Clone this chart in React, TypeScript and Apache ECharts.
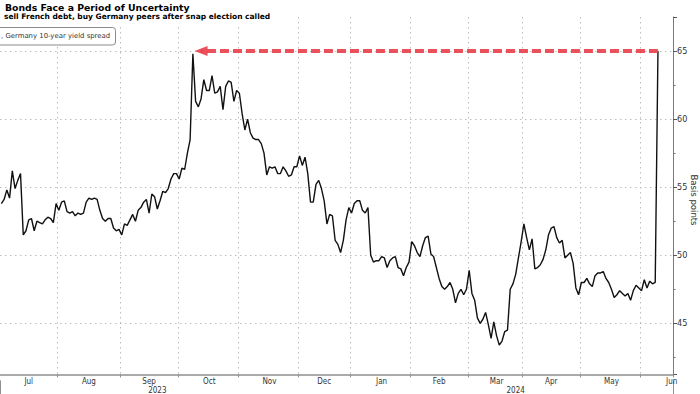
import React, { useEffect, useRef } from "react";
import * as echarts from "echarts";

// ---- Data (France–Germany 10-year yield spread, basis points, trading days) ----
const months = ["Jul", "Aug", "Sep", "Oct", "Nov", "Dec", "Jan", "Feb", "Mar", "Apr", "May", "Jun"];
const monthYear = ["2023", "2023", "2023", "2023", "2023", "2023", "2024", "2024", "2024", "2024", "2024", "2024"];
const tradingDays = [21, 23, 21, 22, 22, 19, 22, 21, 20, 21, 22, 12];

const jul23 = [53.8, 54.1, 54.8, 54.2, 56.2, 54.9, 55.5, 56.0, 51.5, 51.8, 52.6, 52.7, 51.8, 52.5, 52.4, 52.3, 52.6, 52.8, 52.7, 52.4, 53.8];
const aug23 = [53.3, 53.9, 54.0, 53.2, 53.1, 53.2, 52.9, 53.1, 53.0, 53.1, 53.9, 54.2, 54.1, 54.2, 54.1, 53.3, 52.7, 52.5, 52.7, 52.7, 52.0, 51.8, 51.9];
const sep23 = [51.5, 52.3, 52.2, 52.6, 53.0, 52.5, 53.3, 53.5, 53.9, 54.1, 53.1, 54.5, 54.3, 53.4, 54.0, 54.7, 54.6, 54.9, 55.6, 56.0, 56.0];
const oct23 = [55.6, 56.4, 56.3, 57.5, 58.5, 64.8, 61.3, 60.9, 61.5, 62.9, 62.1, 62.1, 63.2, 61.9, 62.0, 62.4, 60.7, 62.4, 62.8, 62.7, 61.3, 62.1];
const nov23 = [61.9, 60.4, 59.2, 60.0, 59.0, 58.6, 58.5, 58.5, 58.2, 57.5, 55.9, 56.5, 56.4, 56.5, 56.0, 56.0, 56.5, 56.2, 55.8, 55.9, 56.5, 56.5];
const dec23 = [57.3, 56.6, 57.2, 56.0, 53.9, 53.9, 55.2, 55.5, 54.9, 54.0, 52.3, 53.0, 52.9, 51.1, 50.8, 50.2, 51.1, 52.6, 53.5];
const jan24 = [53.1, 53.8, 54.0, 54.0, 53.3, 53.1, 53.5, 50.0, 49.5, 49.6, 49.6, 49.9, 49.8, 49.1, 49.6, 49.8, 49.9, 49.1, 49.0, 48.5, 49.1, 49.5];
const feb24 = [51.0, 50.7, 50.2, 49.9, 50.7, 51.3, 51.4, 50.1, 49.9, 49.1, 48.3, 47.7, 47.5, 47.7, 48.0, 47.5, 46.5, 47.2, 47.5, 47.1, 47.5];
const mar24 = [48.9, 47.2, 46.7, 45.4, 45.0, 45.3, 45.8, 44.9, 43.9, 45.1, 44.1, 43.4, 43.7, 44.4, 44.5, 47.5, 47.9, 48.6, 49.8, 51.0];
const apr24 = [52.3, 51.3, 50.4, 51.2, 49.0, 49.1, 49.3, 49.7, 50.4, 51.5, 52.0, 52.1, 51.3, 50.9, 51.1, 49.8, 50.0, 50.2, 49.4, 47.6, 47.1];
const may24 = [48.0, 48.0, 48.3, 47.9, 47.7, 48.5, 48.7, 48.7, 48.8, 48.3, 48.0, 47.5, 46.9, 47.1, 47.4, 47.2, 47.0, 47.2, 46.7, 47.4, 47.8, 47.6];
const jun24 = [47.4, 48.2, 47.6, 48.1, 47.9, 48.0, 65.0];

const arrowLevel = 65;
const titleText = "Bonds Face a Period of Uncertainty";
const subtitleText = "sell French debt, buy Germany peers after snap election called";
const legendText = ", Germany 10-year yield spread";
const yAxisTitle = "Basis points";
const yearLabelAt = [57, 188];

// ---- Build category axis / series from the arrays ----
const monthly = [jul23, aug23, sep23, oct23, nov23, dec23, jan24, feb24, mar24, apr24, may24, jun24];
const categories: string[] = [];
const values: (number | null)[] = [];
const monthStart = new Set<number>();
const monthMid = new Map<number, string>();
const yearStart = new Set<number>();
let idx = 0;
months.forEach((m, k) => {
  const n = tradingDays[k];
  monthStart.add(idx);
  if (k > 0 && monthYear[k] !== monthYear[k - 1]) yearStart.add(idx);
  const mid = k === months.length - 1 ? idx + n - 1 : idx + Math.floor(n / 2);
  monthMid.set(mid, m);
  for (let d = 0; d < n; d++) {
    categories.push(`${m} ${monthYear[k]} #${d + 1}`);
    values.push(d < monthly[k].length ? monthly[k][d] : null);
  }
  idx += n;
});
const yearNames = Array.from(new Set(monthYear));
const yearLabelMap = new Map<number, string>();
yearLabelAt.forEach((i, k) => yearLabelMap.set(i, yearNames[k]));

let lastIdx = 0;
values.forEach((v, i) => {
  if (v != null) lastIdx = i;
});
// previous high (before the final post-election jump)
let peakIdx = 0;
for (let i = 0; i < lastIdx; i++) {
  const v = values[i];
  if (v != null && v > (values[peakIdx] as number)) peakIdx = i;
}

const axisFont = '"Liberation Sans Narrow", "DejaVu Sans Condensed", "Liberation Sans", sans-serif';
const gridLine = { color: "#bdbdbd", type: [1.5, 3.5] as number[], width: 1 };

export default function App() {
  const ref = useRef<HTMLDivElement>(null);
  useEffect(() => {
    document.body.style.margin = "0";
    const chart = echarts.init(ref.current!, null, { renderer: "svg" });
    const option: any = {
      animation: false,
      backgroundColor: "#ffffff",
      grid: { left: 0, right: 27, top: 17, bottom: 19.6, containLabel: false, outerBoundsMode: "none" },
      xAxis: [
        {
          type: "category",
          data: categories,
          boundaryGap: true,
          position: "bottom",
          axisLine: { show: true, lineStyle: { color: "#8f8f8f", width: 1.6 } },
          axisTick: {
            show: true,
            length: 3,
            interval: (i: number) => monthStart.has(i) && i > 0,
            lineStyle: { color: "#8f8f8f" },
          },
          axisLabel: {
            interval: (i: number) => monthMid.has(i),
            formatter: (_v: string, i: number) => monthMid.get(i) ?? "",
            margin: 3,
            fontSize: 8,
            lineHeight: 8,
            color: "#333",
            fontFamily: axisFont,
          },
          splitLine: {
            show: true,
            interval: (i: number) => monthStart.has(i) && i > 0,
            lineStyle: gridLine,
          },
        },
        {
          type: "category",
          data: categories,
          boundaryGap: true,
          position: "bottom",
          offset: 6,
          axisLine: { show: false },
          axisTick: {
            show: true,
            length: 14,
            interval: (i: number) => yearStart.has(i),
            lineStyle: { color: "#8f8f8f" },
          },
          axisLabel: {
            interval: (i: number) => yearLabelMap.has(i),
            formatter: (_v: string, i: number) => yearLabelMap.get(i) ?? "",
            margin: 6,
            fontSize: 8,
            lineHeight: 8,
            color: "#333",
            fontFamily: axisFont,
          },
          splitLine: { show: false },
        },
      ],
      yAxis: {
        type: "value",
        position: "right",
        min: 41.25,
        max: 67.5,
        axisLine: { show: true, lineStyle: { color: "#7a7a7a", width: 1 } },
        axisTick: { show: true, length: 4, lineStyle: { color: "#555" } },
        minorTick: { show: true, splitNumber: 2, length: 2.5, lineStyle: { color: "#777" } },
        axisLabel: {
          formatter: (v: number) => (Math.abs(v % 5) < 1e-9 ? String(v) : ""),
          showMinLabel: false,
          showMaxLabel: false,
          margin: 4,
          fontSize: 9,
          color: "#333",
          fontFamily: axisFont,
        },
        splitLine: { show: true, showMinLine: false, showMaxLine: false, lineStyle: gridLine },
      },
      series: [
        {
          type: "line",
          data: values,
          xAxisIndex: 0,
          symbol: "none",
          lineStyle: { color: "#111", width: 1.4 },
          z: 3,
          markLine: {
            silent: true,
            symbol: ["none", "triangle"],
            symbolSize: [10, 13],
            label: { show: false },
            emphasis: { disabled: true },
            lineStyle: {
              color: "#e8424c",
              width: 4,
              type: [9, 4],
              opacity: 0.92,
            },
            data: [
              [
                { coord: [lastIdx, arrowLevel] },
                { coord: [peakIdx + 3, arrowLevel] },
              ],
            ],
          },
        },
      ],
      graphic: [
        { type: "rect", shape: { x: 0, y: 0, width: 285, height: 26 }, style: { fill: "#fff" }, z: 10, silent: true },
        {
          type: "text",
          x: 5,
          y: 7,
          z: 11,
          style: { text: titleText, font: 'bold 9.3px "DejaVu Sans"', fill: "#000", verticalAlign: "middle" },
        },
        {
          type: "text",
          x: 4,
          y: 16.3,
          z: 11,
          style: { text: subtitleText, font: 'bold 7.5px "DejaVu Sans"', fill: "#000", verticalAlign: "middle" },
        },
        {
          type: "rect",
          shape: { x: -4, y: 27.5, width: 119.5, height: 17.5, r: 3 },
          style: { fill: "#fff", stroke: "#8a8a8a", lineWidth: 1 },
          z: 10,
          silent: true,
        },
        {
          type: "text",
          x: 1,
          y: 36,
          z: 11,
          style: { text: legendText, font: '6.9px "DejaVu Sans"', fill: "#333", verticalAlign: "middle" },
        },
        {
          type: "text",
          x: 694,
          y: 200,
          rotation: -Math.PI / 2,
          z: 11,
          style: {
            text: yAxisTitle,
            font: '8.5px "DejaVu Sans"',
            fill: "#333",
            align: "center",
            verticalAlign: "middle",
          },
        },
      ],
    };
    chart.setOption(option);
    return () => chart.dispose();
  }, []);
  return <div ref={ref} style={{ position: "fixed", left: 0, top: 0, width: 700, height: 394 }} />;
}
